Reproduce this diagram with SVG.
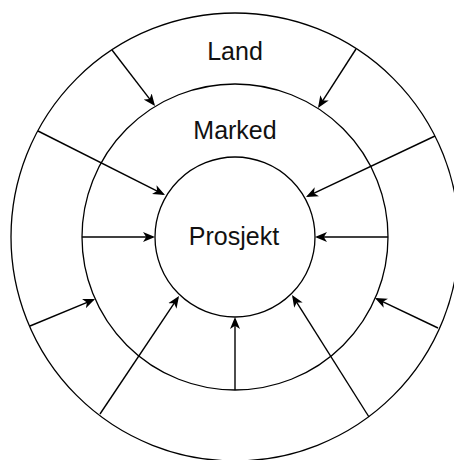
<svg xmlns="http://www.w3.org/2000/svg" width="454" height="460" viewBox="0 0 454 460">
<style>
.ring{fill:#ffffff;stroke:#000000;stroke-width:1.3}
.lbl{font-family:"Liberation Sans",Arial,Helvetica,sans-serif;font-size:25px;fill:#111111;text-anchor:middle}
.edge{stroke:#000000;stroke-width:1.4;fill:none;marker-end:url(#arr)}
</style>
<defs>
<marker id="arr" markerUnits="userSpaceOnUse" markerWidth="13" markerHeight="11" viewBox="0 0 13 11" refX="10" refY="5.5" orient="auto">
<path d="M0,0.5 L12,5.5 L0,10.5 L3.2,5.5 z" fill="#000000"/>
</marker>
</defs>
<rect width="454" height="460" fill="#ffffff"/>
<g id="land">
<circle class="ring" cx="235" cy="237" r="224"/>
<text class="lbl" x="235" y="60">Land</text>
</g>
<g id="marked">
<circle class="ring" cx="235" cy="237" r="153"/>
<text class="lbl" x="235" y="139">Marked</text>
</g>
<g id="prosjekt">
<circle class="ring" cx="235" cy="237" r="80"/>
<text class="lbl" x="234" y="245">Prosjekt</text>
</g>
<g id="connectors">
<line class="edge" x1="112" y1="50" x2="153.8" y2="104.4"/>
<line class="edge" x1="356" y1="49" x2="319.1" y2="106.3"/>
<line class="edge" x1="38" y1="131" x2="163.2" y2="194.1"/>
<line class="edge" x1="435" y1="136" x2="307.8" y2="196.1"/>
<line class="edge" x1="82" y1="237" x2="153" y2="237"/>
<line class="edge" x1="388" y1="237" x2="317" y2="237"/>
<line class="edge" x1="30" y1="326" x2="93.2" y2="299.8"/>
<line class="edge" x1="100" y1="414" x2="177.9" y2="297.7"/>
<line class="edge" x1="235" y1="390" x2="235" y2="319"/>
<line class="edge" x1="369" y1="417" x2="293.1" y2="296.7"/>
<line class="edge" x1="438" y1="328" x2="376.8" y2="298.9"/>
</g>
</svg>
